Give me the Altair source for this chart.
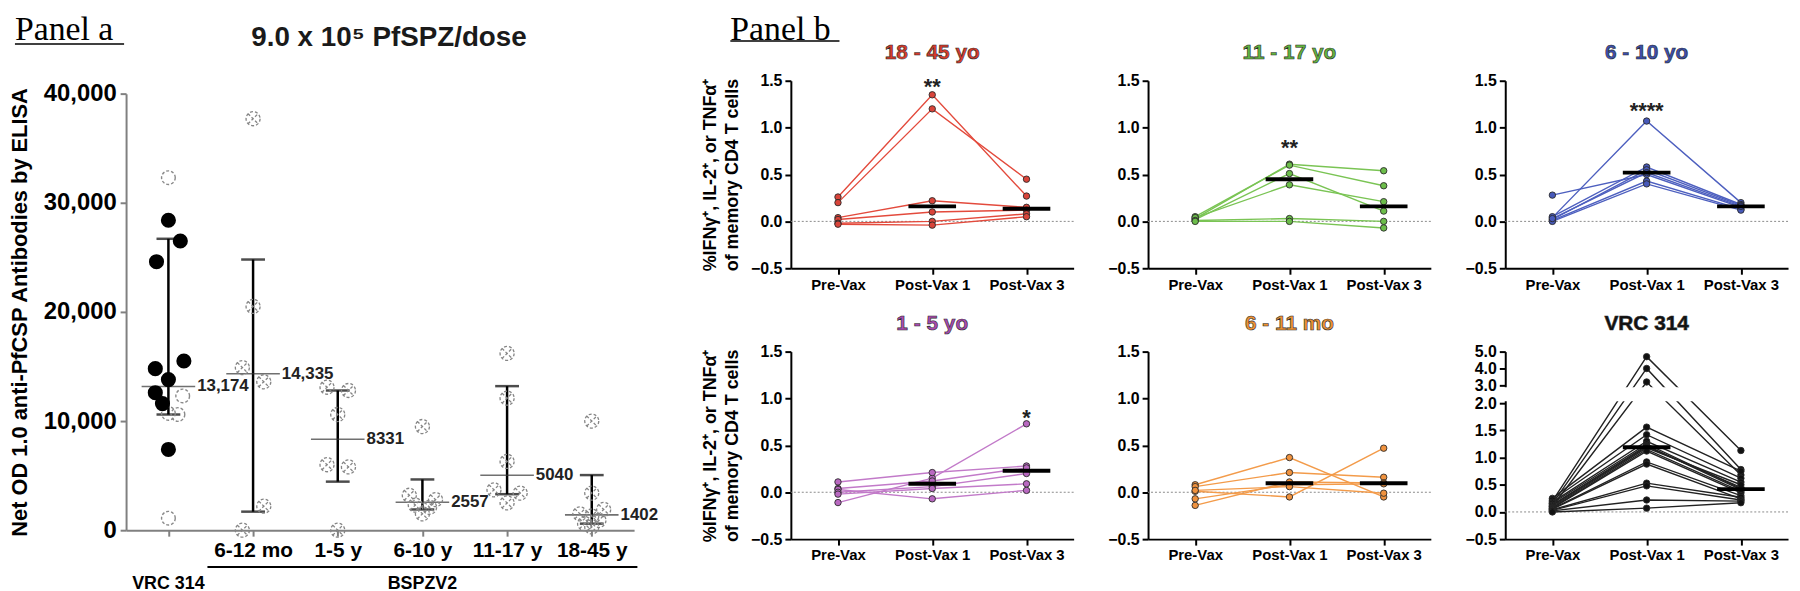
import altair as alt
import pandas as pd

FONT = "Liberation Sans"
SERIF = "Liberation Serif"
GRAY = "#808080"

# ---------------- Panel a data ----------------
A_GROUPS = ["VRC 314", "6-12 mo", "1-5 y", "6-10 y", "11-17 y", "18-45 y"]
A_VRC_FILLED = [28400, 26500, 24600, 15500, 14800, 13800, 12600, 11600, 7400]
A_VRC_FILLED_LANE = [0, 1, -1, 1.3, -1.1, 0, -1.1, -0.5, 0]
A_VRC_OPEN = [32300, 12300, 10700, 10600, 1100]
A_VRC_OPEN_LANE = [0, 1.2, 0, 0.8, 0]
A_612MO = [37700, 20500, 14900, 13600, 2200, 0]
A_612MO_LANE = [0, 0, -0.9, 0.9, 0.9, -0.9]
A_15Y = [13100, 12800, 10600, 6000, 5800, 0]
A_15Y_LANE = [-0.9, 0.9, 0, -0.9, 0.9, 0]
A_610Y = [9500, 3200, 2800, 2300, 2100, 1500]
A_610Y_LANE = [0, -1.1, 1.1, -0.6, 0.6, 0]
A_1117Y = [16200, 12100, 6300, 3700, 3400, 2500]
A_1117Y_LANE = [0, 0, 0, -1.1, 1.1, 0]
A_1845Y = [10000, 3400, 1900, 1500, 1300, 900, 600, 300]
A_1845Y_LANE = [0, 0, 1, -1, 0, 0.6, -0.6, 0]
A_MEDIAN = [13174, 14335, 8331, 2557, 5040, 1402]
A_MEDIAN_TEXT = ["13,174", "14,335", "8331", "2557", "5040", "1402"]
A_BAR_LOW = [10600, 1700, 4450, 1900, 3300, 600]
A_BAR_HIGH = [26700, 24800, 12800, 4650, 13200, 5050]
A_YTICKS = [0, 10000, 20000, 30000, 40000]

# ---------------- Panel b data ----------------
TIMES = ["Pre-Vax", "Post-Vax 1", "Post-Vax 3"]

R_PRE = [0.26, 0.20, 0.04, 0.02, -0.02, -0.03]
R_V1 = [1.35, 1.20, 0.22, 0.10, 0.00, -0.04]
R_V3 = [0.27, 0.45, 0.15, 0.12, 0.08, 0.05]

G_PRE = [0.03, 0.05, 0.02, 0.04, 0.01, 0.00]
G_V1 = [0.61, 0.60, 0.51, 0.39, 0.03, 0.00]
G_V3 = [0.54, 0.38, 0.11, 0.21, 0.00, -0.07]

B_PRE = [0.28, 0.04, 0.05, 0.02, 0.01, 0.00, 0.03]
B_V1 = [0.50, 1.07, 0.58, 0.55, 0.43, 0.40, 0.52]
B_V3 = [0.15, 0.20, 0.18, 0.17, 0.13, 0.12, 0.16]

P_PRE = [-0.11, 0.11, 0.04, 0.03, 0.00, -0.02]
P_V1 = [0.15, 0.21, 0.12, -0.07, 0.06, 0.04]
P_V3 = [0.73, 0.28, 0.26, 0.02, 0.20, 0.09]

O_PRE = [0.08, 0.06, -0.14, -0.07, 0.01, 0.02]
O_V1 = [0.37, 0.21, 0.11, 0.08, -0.05, 0.06]
O_V3 = [-0.05, 0.16, 0.10, 0.09, 0.47, -0.01]

K_PRE = [0.20, 0.15, 0.10, 0.25, 0.22, 0.18, 0.16, 0.13, 0.12, 0.10, 0.08, 0.07, 0.06, 0.05, 0.04, 0.03, 0.02, 0.00]
K_V1 = [4.70, 4.00, 3.20, 1.56, 1.42, 1.30, 1.25, 1.22, 1.20, 1.18, 1.15, 1.12, 0.92, 0.88, 0.53, 0.48, 0.22, 0.07]
K_V3 = [1.13, 0.78, 0.68, 0.75, 0.62, 0.55, 0.43, 0.41, 0.45, 0.50, 0.38, 0.35, 0.30, 0.24, 0.27, 0.22, 0.20, 0.17]

STAR_PANEL = ["18 - 45 yo", "11 - 17 yo", "6 - 10 yo", "1 - 5 yo"]
STAR_TIME = ["Post-Vax 1", "Post-Vax 1", "Post-Vax 1", "Post-Vax 3"]
STAR_Y = [1.50, 0.85, 1.24, 0.86]
STAR_TEXT = ["**", "**", "****", "*"]

OTIMES = ("M 1 0 A 1 1 0 1 1 -1 0 A 1 1 0 1 1 1 0 "
          "M -0.72 -0.72 L 0.72 0.72 M -0.72 0.72 L 0.72 -0.72")

# ================= Panel a =================
AW, AH = 512, 440

rows = []
for v, l in zip(A_VRC_FILLED, A_VRC_FILLED_LANE):
    rows.append(("VRC 314", v, l, "filled"))
for v, l in zip(A_VRC_OPEN, A_VRC_OPEN_LANE):
    rows.append(("VRC 314", v, l, "open"))
for g, vals, lanes in [("6-12 mo", A_612MO, A_612MO_LANE), ("1-5 y", A_15Y, A_15Y_LANE),
                       ("6-10 y", A_610Y, A_610Y_LANE), ("11-17 y", A_1117Y, A_1117Y_LANE),
                       ("18-45 y", A_1845Y, A_1845Y_LANE)]:
    for v, l in zip(vals, lanes):
        rows.append((g, v, l, "cross"))
a_pts = pd.DataFrame(rows, columns=["group", "value", "lane", "kind"])
a_sum = pd.DataFrame({"group": A_GROUPS, "median": A_MEDIAN, "low": A_BAR_LOW,
                      "high": A_BAR_HIGH, "label": A_MEDIAN_TEXT})

a_xsc = alt.Scale(type="point", domain=A_GROUPS, padding=0.5)
a_ysc = alt.Scale(domain=[0, 40000], nice=False, zero=False)
a_xax = alt.Axis(title=None, labelAngle=0, labelFontSize=21, labelPadding=4,
                 labelExpr="datum.label == 'VRC 314' ? '' : datum.label",
                 domainColor=GRAY, tickColor=GRAY, domainWidth=2)
a_yax = alt.Axis(title="Net OD 1.0 anti-PfCSP Antibodies by ELISA", values=A_YTICKS,
                 labelExpr="format(datum.value, ',')",
                 labelFontSize=24, labelPadding=4, titleFontSize=22, titlePadding=12,
                 domainColor=GRAY, tickColor=GRAY, domainWidth=2)
AX = alt.X("group:N", scale=a_xsc, axis=a_xax)
off = alt.XOffset("lane:Q", scale=alt.Scale(domain=[-1, 1], range=[-12, 12]))

a_base = alt.Chart(a_pts).encode(x=AX, y=alt.Y("value:Q", scale=a_ysc, axis=a_yax), xOffset=off)
a_filled = a_base.transform_filter("datum.kind == 'filled'").mark_point(
    shape="circle", filled=True, fill="black", stroke="black", size=175, opacity=1)
a_open = a_base.transform_filter("datum.kind == 'open'").mark_point(
    shape="circle", filled=False, stroke="#8a8a8a", strokeWidth=1.4, strokeDash=[3, 2], size=190, opacity=1)
a_cross = a_base.transform_filter("datum.kind == 'cross'").mark_point(
    shape=OTIMES, filled=False, stroke="#858585", strokeWidth=1.3, strokeDash=[3, 2], size=200, opacity=1)

sb = alt.Chart(a_sum).encode(x=AX)
a_med = sb.mark_tick(color="#333333", thickness=1.6, size=54).encode(
    y=alt.Y("median:Q", scale=a_ysc, axis=a_yax))
a_bar = sb.mark_rule(color="black", strokeWidth=2.5).encode(
    y=alt.Y("low:Q", scale=a_ysc, axis=a_yax), y2="high:Q")
a_caplo = sb.mark_tick(color="black", thickness=2.5, size=24).encode(
    y=alt.Y("low:Q", scale=a_ysc, axis=a_yax))
a_caphi = sb.mark_tick(color="black", thickness=2.5, size=24).encode(
    y=alt.Y("high:Q", scale=a_ysc, axis=a_yax))
a_lab = sb.mark_text(align="left", baseline="middle", dx=29, fontSize=17, fontWeight="bold",
                     font=FONT, color="#222222").encode(
    y=alt.Y("median:Q", scale=a_ysc, axis=a_yax), text="label:N")

a_groupline = alt.Chart(pd.DataFrame({"a": [A_GROUPS[1]], "b": [A_GROUPS[-1]]})).mark_rule(
    color="black", strokeWidth=2, xOffset=-46, x2Offset=46).encode(
    x=alt.X("a:N", scale=a_xsc, axis=a_xax), x2="b:N", y=alt.value(AH + 37))
a_grouptext = alt.Chart(pd.DataFrame({"group": [A_GROUPS[0], A_GROUPS[3]],
                                      "t": ["VRC 314", "BSPZV2"]})).mark_text(
    fontSize=18, fontWeight="bold", font=FONT, baseline="middle", color="black").encode(
    x=AX, y=alt.value(AH + 54), text="t:N")

panel_a = alt.layer(a_bar, a_caplo, a_caphi, a_med, a_open, a_cross, a_filled, a_lab,
                    a_groupline, a_grouptext).properties(width=AW, height=AH)

hdr_a = alt.layer(
    alt.Chart(pd.DataFrame({"t": ["Panel a"]})).mark_text(
        font=SERIF, fontSize=34, align="left", baseline="top", color="black").encode(
        text="t:N", x=alt.value(-112), y=alt.value(-68)),
    alt.Chart(pd.DataFrame({"t": ["u"]})).mark_rule(color="black", strokeWidth=1.5).encode(
        x=alt.value(-112), x2=alt.value(-2), y=alt.value(-37)),
    alt.Chart(pd.DataFrame({"t": ["9.0 x 10\u2075 PfSPZ/dose"]})).mark_text(
        font=FONT, fontSize=28, fontWeight="bold", align="center", baseline="middle", color="#1a1a1a").encode(
        text="t:N", x=alt.value(265), y=alt.value(-43)),
).properties(width=AW, height=1)

col_a = alt.vconcat(hdr_a, panel_a, spacing=0)

# ================= Panel b =================
BW, BH = 285, 189
stars = pd.DataFrame({"panel": STAR_PANEL, "time": STAR_TIME, "value": STAR_Y, "label": STAR_TEXT})


def b_panel(title, tcol, lcol, pcol, pre, v1, v3, ytitle=False, vrc=False, label=None):
    n = len(pre)
    df = pd.DataFrame({
        "subject": list(range(n)) * 3,
        "time": [TIMES[0]] * n + [TIMES[1]] * n + [TIMES[2]] * n,
        "step": [0] * n + [1] * n + [2] * n,
        "value": list(pre) + list(v1) + list(v3),
    })
    if vrc:
        ysc = alt.Scale(domain=[-0.5, 2.0, 3.0, 5.0], range=[BH, 52, 34, 0], nice=False, zero=False)
        yvals = [-0.5, 0, 0.5, 1.0, 1.5, 2.0, 3.0, 4.0, 5.0]
    else:
        ysc = alt.Scale(domain=[-0.5, 1.5], nice=False, zero=False)
        yvals = [-0.5, 0, 0.5, 1.0, 1.5]
    yax = alt.Axis(values=yvals, format=".1f", labelFontSize=16, labelPadding=3, labelOverlap=False,
                   labelBound=False,
                   title=["%IFN\u03b3\u207a, IL-2\u207a, or TNF\u03b1\u207a", "of memory CD4 T cells"] if ytitle else None,
                   titleFontSize=18, titlePadding=9, titleLineHeight=22)
    xsc = alt.Scale(type="point", domain=TIMES, padding=0.5)
    xax = alt.Axis(title=None, labelAngle=0, labelFontSize=15, labelPadding=3)
    X = alt.X("time:N", scale=xsc, axis=xax)
    Y = alt.Y("value:Q", scale=ysc, axis=yax)
    base = alt.Chart(df).encode(x=X, y=Y)
    zero = alt.Chart(pd.DataFrame({"z": [0]})).mark_rule(
        color="#8a8a8a", strokeDash=[2, 2], strokeWidth=1).encode(y=alt.Y(datum=0, scale=ysc, axis=yax))
    lines = base.mark_line(color=lcol, strokeWidth=1.4).encode(detail="subject:N", order="step:Q")
    pts = base.mark_point(filled=True, fill=pcol, stroke="#2b2b2b", strokeWidth=0.9, size=42, opacity=1)
    med = base.transform_filter(alt.datum.step > 0).mark_tick(color="black", thickness=4, size=48).encode(
        y=alt.Y("median(value):Q", scale=ysc, axis=yax))
    layers = [zero, lines, pts, med]
    st = stars[stars.panel == title]
    if len(st):
        layers.append(alt.Chart(st).mark_text(fontSize=22, fontWeight="bold", font=FONT, color="#222222",
                                              baseline="middle", dy=6).encode(x=X, y=Y, text="label:N"))
    if vrc:
        layers.append(alt.Chart(pd.DataFrame({"g": [1]})).mark_rect(color="white").encode(
            x=alt.value(-8), x2=alt.value(BW + 4), y=alt.value(36), y2=alt.value(50)))
    layers.append(alt.Chart(pd.DataFrame({"t": [title]})).mark_text(
        font=FONT, fontSize=21, fontWeight="bold", fill=tcol, stroke="#2a2a2a", strokeWidth=0.6,
        align="center", baseline="middle").encode(text="t:N", x=alt.value(BW / 2), y=alt.value(-28)))
    if label:
        layers.append(alt.Chart(pd.DataFrame({"t": [label]})).mark_text(
            font=SERIF, fontSize=34, align="left", baseline="top", color="black").encode(
            text="t:N", x=alt.value(-61), y=alt.value(-68)))
        layers.append(alt.Chart(pd.DataFrame({"t": ["u"]})).mark_rule(color="black", strokeWidth=1.5).encode(
            x=alt.value(-61), x2=alt.value(49), y=alt.value(-40)))
    return alt.layer(*layers).properties(width=BW, height=BH)


p1 = b_panel("18 - 45 yo", "#d93b2b", "#e34a3c", "#d9443a", R_PRE, R_V1, R_V3, ytitle=True, label="Panel b")
p2 = b_panel("11 - 17 yo", "#62b53f", "#7ac454", "#6cbd4a", G_PRE, G_V1, G_V3)
p3 = b_panel("6 - 10 yo", "#3b4fae", "#4d5fbf", "#4759ba", B_PRE, B_V1, B_V3)
p4 = b_panel("1 - 5 yo", "#a84bb0", "#c27ac9", "#b968c1", P_PRE, P_V1, P_V3, ytitle=True)
p5 = b_panel("6 - 11 mo", "#ee9233", "#f39b4a", "#f0923e", O_PRE, O_V1, O_V3)
p6 = b_panel("VRC 314", "#111111", "#222222", "#111111", K_PRE, K_V1, K_V3, vrc=True)

row1 = alt.hconcat(p1, p2, p3, spacing=33)
row2 = alt.hconcat(p4, p5, p6, spacing=33)
col_b = alt.vconcat(row1, row2, spacing=21)

chart = alt.hconcat(col_a, col_b, spacing=43).properties(
    padding={"left": 0, "top": 3, "right": 0, "bottom": 0}
).configure_view(stroke=None).configure_axis(
    domainColor="black", domainWidth=2, tickColor="black", tickWidth=2, tickSize=6,
    labelColor="black", titleColor="black", labelFont=FONT, titleFont=FONT,
    labelFontWeight="bold", titleFontWeight="bold", grid=False, labelOverlap=False
)

chart.save("out.html", embed_options={"renderer": "svg", "actions": False})
